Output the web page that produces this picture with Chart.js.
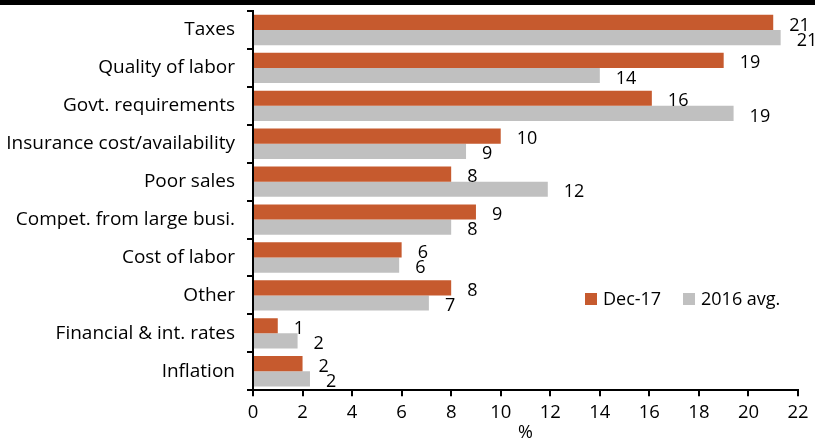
<!DOCTYPE html>
<html>
<head>
<meta charset="utf-8">
<script src="https://cdn.jsdelivr.net/npm/chart.js@4"></script>
<style>
  body { margin: 0; background: #fff; }
  #wrap { width: 815px; height: 442px; position: relative; }
</style>
</head>
<body>
<div id="wrap"><canvas id="grafico"></canvas></div>
<script>
const categorias = ['Taxes', 'Quality of labor', 'Govt. requirements', 'Insurance cost/availability', 'Poor sales',
    'Compet. from large busi.', 'Cost of labor', 'Other', 'Financial & int. rates', 'Inflation']
const dic17 = [21.0, 19.0, 16.1, 10.0, 8.0, 9.0, 6.0, 8.0, 1.0, 2.0]
const prom2016 = [21.3, 14.0, 19.4, 8.6, 11.9, 8.0, 5.9, 7.1, 1.8, 2.3]
const etiquetasX = [0, 2, 4, 6, 8, 10, 12, 14, 16, 18, 20, 22]

const fuente = '"Open Sans", Lato, sans-serif'

// black strip on top, value labels and legend inside the plot
const extras = {
    id: 'extras',
    afterDraw(chart) {
        let ctx = chart.ctx
        ctx.save()
        ctx.fillStyle = '#000'
        ctx.fillRect(0, 0, chart.width, 5)

        ctx.font = '18px ' + fuente
        ctx.fillStyle = '#000'
        ctx.textBaseline = 'middle'
        ctx.textAlign = 'left'
        chart.data.datasets.forEach((ds, d) => {
            let meta = chart.getDatasetMeta(d)
            meta.data.forEach((bar, i) => {
                ctx.fillText(Math.round(ds.data[i]).toString(), bar.x + 16, bar.y + 3)
            })
        })

        // legend
        let lx = 585, ly = 299
        chart.data.datasets.forEach((ds, d) => {
            ctx.fillStyle = ds.backgroundColor
            ctx.fillRect(lx, ly - 6, 12, 12)
            ctx.fillStyle = '#000'
            ctx.fillText(ds.label, lx + 18, ly + 1)
            lx += 98
        })
        ctx.restore()
    }
}

let grafico = new Chart(document.getElementById('grafico'), {
    type: 'bar',
    data: {
        labels: categorias,
        datasets: [
            { label: 'Dec-17', data: dic17, backgroundColor: '#C65A2E', categoryPercentage: 0.8, barPercentage: 1 },
            { label: '2016 avg.', data: prom2016, backgroundColor: '#C0C0C0', categoryPercentage: 0.8, barPercentage: 1 }
        ]
    },
    options: {
        indexAxis: 'y',
        responsive: true,
        maintainAspectRatio: false,
        animation: false,
        layout: { padding: { top: 11, right: 17, left: 0, bottom: -2 } },
        plugins: { legend: { display: false }, tooltip: { enabled: false } },
        scales: {
            x: {
                min: 0,
                max: 22,
                afterBuildTicks: (axis) => { axis.ticks = etiquetasX.map(v => ({ value: v })) },
                border: { display: true, color: '#000', width: 2 },
                grid: { drawOnChartArea: false, drawTicks: true, tickLength: 6, color: '#000', lineWidth: 2 },
                ticks: { color: '#000', font: { family: fuente, size: 18.5 }, padding: 5 },
                title: { display: true, text: '%', color: '#000', font: { family: fuente, size: 18 }, padding: { top: -6, bottom: 0 } }
            },
            y: {
                afterFit: (axis) => {
                    axis.width = 253
                    axis.paddingTop = 0
                    axis.paddingBottom = 0
                },
                border: { display: true, color: '#000', width: 2 },
                grid: { offset: true, drawOnChartArea: false, drawTicks: true, tickLength: 6, color: '#000', lineWidth: 2 },
                ticks: { color: '#000', font: { family: fuente, size: 19 }, padding: 12 }
            }
        }
    },
    plugins: [extras]
})
</script>
</body>
</html>
